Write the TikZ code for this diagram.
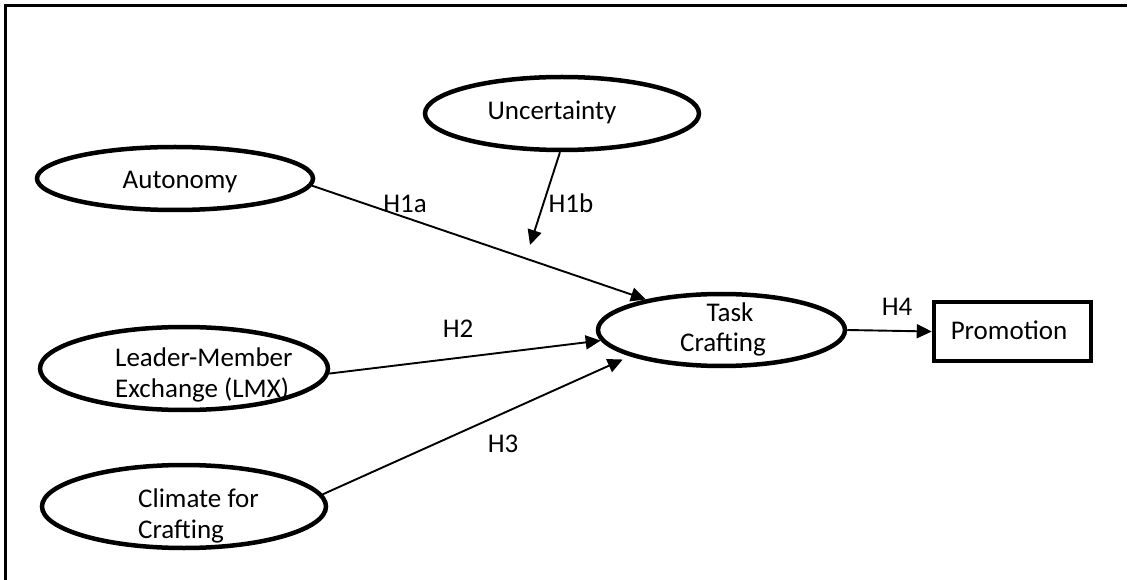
\documentclass[tikz,border=0pt]{standalone}
\usepackage{fontspec}
\setmainfont{Carlito}
\usetikzlibrary{arrows.meta,shapes.geometric}
\begin{document}
\begin{tikzpicture}[x=1pt,y=-1pt,
  construct/.style={ellipse,draw,line width=4.5pt,inner sep=0pt},
  txt/.style={font=\fontsize{27}{31}\selectfont,inner sep=0pt,anchor=base},
  txtl/.style={font=\fontsize{27}{31}\selectfont,inner sep=0pt,anchor=base west},
  lbl/.style={font=\fontsize{27}{31}\selectfont,inner sep=0pt},
  conn/.style={line width=1.9pt,-{Triangle[length=15pt,width=14pt]}}]
\fill[white] (0,0) rectangle (1128,580);
\useasboundingbox (0,0) rectangle (1128,580);
% frame (only top and left edges fall within the picture)
\draw[line width=2.5pt] (5.5,580) -- (5.5,5.5) -- (1127,5.5);
% constructs
\node[construct,minimum width=276pt,minimum height=63pt] (aut) at (175,178.5) {};
\node[construct,minimum width=274pt,minimum height=73pt] (unc) at (562,113.5) {};
\node[construct,minimum width=288pt,minimum height=83pt] (lmx) at (184,368.5) {};
\node[construct,minimum width=284pt,minimum height=83pt] (clim) at (184,506.5) {};
\node[construct,minimum width=247pt,minimum height=72pt] (tc) at (721.5,330) {};
\node[draw,line width=4.5pt,minimum width=157pt,minimum height=59pt,inner sep=0pt] (prom) at (1012.5,331.5) {};
% texts
\node[txt] (autT) at (180,189) {Autonomy};
\node[txt] (uncT) at (552,120) {Uncertainty};
\node[txtl] (lmxT1) at (115,366) {Leader-Member};
\node[txtl] (lmxT2) at (115,397) {Exchange (LMX)};
\node[txtl] (climT1) at (138,507) {Climate for};
\node[txtl] (climT2) at (138,538) {Crafting};
\node[txt] (tcT1) at (730,321) {Task};
\node[txt] (tcT2) at (723,352) {Crafting};
\node[txt] (promT) at (1009,340) {Promotion};
% connectors
\coordinate (mod) at (530,245);
\draw[conn] (aut.-3) -- (tc.158);
\draw[conn] (unc.-93) -- (mod);
\draw[conn] (lmx.-2.6) -- (tc.185);
\draw[conn,shorten >=8pt] (clim.5.4) -- (tc.196);
\draw[conn] (tc.east) -- (prom.west);
% labels
\node[lbl] (h1a) at (405,204) {H1a};
\node[lbl] (h1b) at (571,203) {H1b};
\node[lbl] (h2) at (458,328.5) {H2};
\node[lbl] (h3) at (503,444) {H3};
\node[lbl] (h4) at (897,307) {H4};
\end{tikzpicture}
\end{document}
